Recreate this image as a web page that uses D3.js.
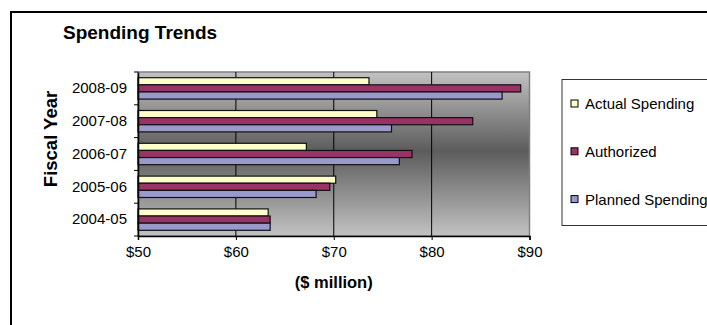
<!DOCTYPE html>
<html>
<head>
<meta charset="utf-8">
<script src="https://cdn.jsdelivr.net/npm/d3@7"></script>
<style>
  html, body { margin: 0; padding: 0; background: #fff; }
  svg { display: block; font-family: "Liberation Sans", Arial, sans-serif; }
</style>
</head>
<body>
<svg id="chart" width="707" height="325"></svg>
<script>
const categories = ["2008-09", "2007-08", "2006-07", "2005-06", "2004-05"];
const seriesNames = ["Actual Spending", "Authorized", "Planned Spending"];
const actualSpending = [73.6, 74.4, 67.2, 70.2, 63.3];
const authorized = [89.1, 84.2, 78.0, 69.6, 63.5];
const plannedSpending = [87.2, 75.9, 76.7, 68.2, 63.5];
const seriesColors = ["#FFFFCC", "#993366", "#9999CC"];
const xTicks = [50, 60, 70, 80, 90];

const seriesValues = [actualSpending, authorized, plannedSpending];

const svg = d3.select("#chart");

// outer frame (clipped by the image on right/bottom)
svg.append("rect")
  .attr("x", 11).attr("y", 12)
  .attr("width", 720).attr("height", 330)
  .attr("fill", "#fff").attr("stroke", "#000").attr("stroke-width", 2);

const plot = { left: 138, right: 529.5, top: 72, bottom: 236 };

const defs = svg.append("defs");
const grad = defs.append("linearGradient")
  .attr("id", "bg").attr("x1", 0).attr("y1", 0).attr("x2", 0).attr("y2", 1);
grad.append("stop").attr("offset", "0%").attr("stop-color", "#c2c2c2");
grad.append("stop").attr("offset", "48%").attr("stop-color", "#5c5c5c");
grad.append("stop").attr("offset", "100%").attr("stop-color", "#c2c2c2");

const x = d3.scaleLinear().domain([50, 90]).range([plot.left, plot.right]);
const y0 = d3.scaleBand().domain(categories).range([plot.top, plot.bottom]).paddingInner(0).paddingOuter(0);
const y1 = d3.scaleBand().domain(seriesNames).range([0, y0.bandwidth()]).paddingInner(0).paddingOuter(0.8);

// plot background
svg.append("rect")
  .attr("x", plot.left).attr("y", plot.top)
  .attr("width", plot.right - plot.left).attr("height", plot.bottom - plot.top)
  .attr("fill", "url(#bg)").attr("stroke", "#808080").attr("stroke-width", 1.5);

// gridlines
svg.append("g")
  .selectAll("line")
  .data(xTicks.slice(1, -1))
  .join("line")
  .attr("x1", d => x(d)).attr("x2", d => x(d))
  .attr("y1", plot.top).attr("y2", plot.bottom)
  .attr("stroke", "#000").attr("stroke-width", 1);

// bars
const groups = svg.append("g")
  .selectAll("g")
  .data(categories)
  .join("g")
  .attr("transform", d => `translate(0,${y0(d)})`);

groups.selectAll("rect")
  .data((c, i) => seriesNames.map((s, j) => ({ s, v: seriesValues[j][i], color: seriesColors[j] })))
  .join("rect")
  .attr("x", x(50))
  .attr("y", d => y1(d.s))
  .attr("width", d => x(d.v) - x(50))
  .attr("height", y1.bandwidth())
  .attr("fill", d => d.color)
  .attr("stroke", "#111").attr("stroke-width", 1.2);

// x axis
const xAxis = d3.axisBottom(x).tickValues(xTicks).tickSize(4).tickPadding(6)
  .tickFormat(d => "$" + d);
const gx = svg.append("g").attr("transform", `translate(0,${plot.bottom})`).call(xAxis);
gx.select(".domain").attr("stroke", "#000").attr("stroke-width", 1.5);
gx.selectAll(".tick line").attr("stroke", "#000");
gx.selectAll("text").attr("font-size", 15).attr("fill", "#000")
  .attr("font-family", "Liberation Sans, Arial, sans-serif");

// y axis
const yAxis = d3.axisLeft(y0).tickSize(0).tickPadding(11);
const gy = svg.append("g").attr("transform", `translate(${plot.left},0)`).call(yAxis);
gy.select(".domain").attr("stroke", "#000").attr("stroke-width", 1.5);
gy.selectAll("text").attr("font-size", 15).attr("fill", "#000")
  .attr("font-family", "Liberation Sans, Arial, sans-serif");
// category boundary ticks
svg.append("g").selectAll("line")
  .data(categories.concat([null]))
  .join("line")
  .attr("x1", plot.left - 4).attr("x2", plot.left)
  .attr("y1", (d, i) => plot.top + i * y0.step())
  .attr("y2", (d, i) => plot.top + i * y0.step())
  .attr("stroke", "#000");

// titles
svg.append("text").attr("x", 63).attr("y", 39)
  .attr("font-size", 19).attr("font-weight", "bold").text("Spending Trends");

svg.append("text").attr("x", (plot.left + plot.right) / 2).attr("y", 288)
  .attr("text-anchor", "middle").attr("font-size", 16.5).attr("font-weight", "bold")
  .text("($ million)");

svg.append("text")
  .attr("transform", `translate(57,139) rotate(-90)`)
  .attr("text-anchor", "middle").attr("font-size", 18.5).attr("font-weight", "bold")
  .text("Fiscal Year");

// legend
svg.append("rect").attr("x", 562).attr("y", 79.5).attr("width", 200).attr("height", 146)
  .attr("fill", "#fff").attr("stroke", "#333").attr("stroke-width", 1);
const leg = svg.append("g").selectAll("g")
  .data(seriesNames)
  .join("g")
  .attr("transform", (d, i) => `translate(571,${103.5 + i * 47.8})`);
leg.append("rect").attr("x", 0).attr("y", -3.5).attr("width", 7).attr("height", 7)
  .attr("fill", (d, i) => seriesColors[i]).attr("stroke", "#000").attr("stroke-width", 1);
leg.append("text").attr("x", 14).attr("y", 5.5).attr("font-size", 15).text(d => d);
</script>
</body>
</html>
